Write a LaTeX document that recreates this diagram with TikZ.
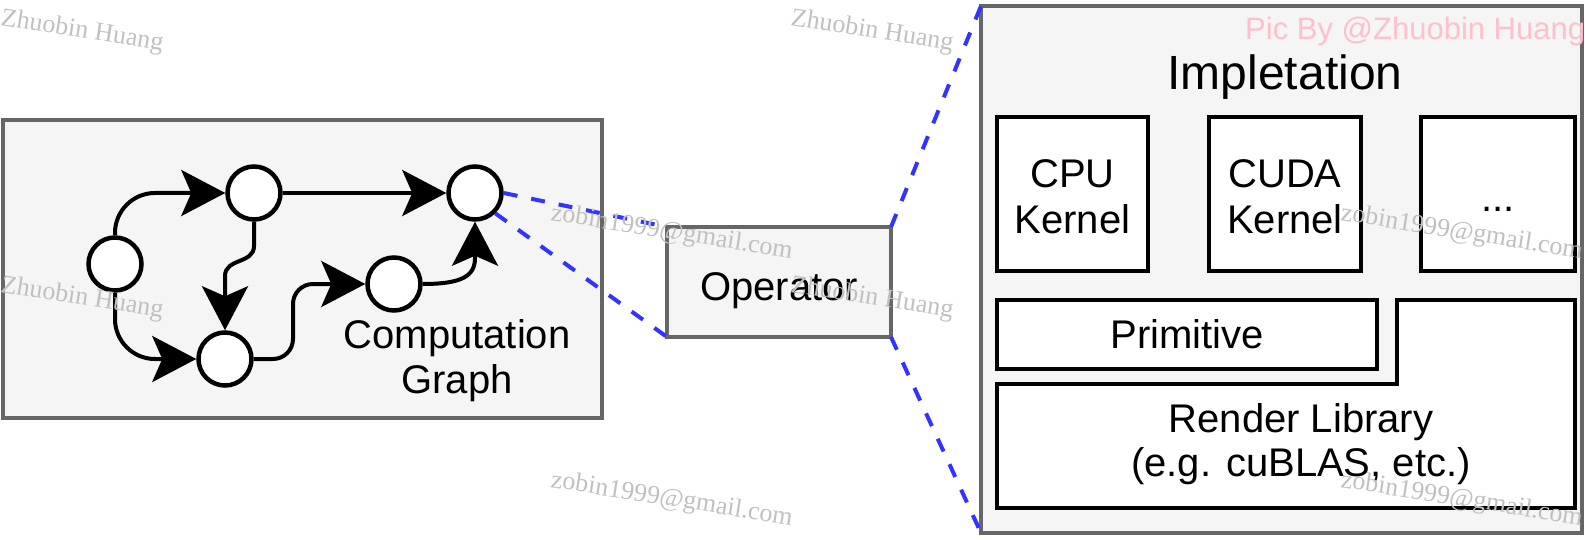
\documentclass[tikz,border=0pt]{standalone}
\usepackage{fontspec}
\setmainfont{Liberation Sans}
\newfontfamily\wmfont{Liberation Serif}
\usetikzlibrary{arrows.meta}
\definecolor{boxgray}{HTML}{666666}
\definecolor{boxfill}{HTML}{F5F5F5}
\definecolor{linkblue}{HTML}{3333FF}
\definecolor{wmgray}{HTML}{C0C0C0}
\definecolor{picpink}{HTML}{FFC0CB}
\begin{document}
\begin{tikzpicture}[x=1pt,y=-1pt,
  panel/.style={draw=boxgray, fill=boxfill, line width=4.5pt, rectangle, inner sep=0pt, outer sep=0pt},
  kbox/.style={draw=black, fill=white, line width=4.5pt, rectangle, inner sep=0pt, outer sep=0pt},
  gnode/.style={circle, draw=black, fill=white, line width=4.5pt, minimum size=53pt, inner sep=0pt},
  edge/.style={draw=black, line width=4pt, -{Stealth[length=44pt,width=46pt,inset=10pt]}},
  lbl/.style={anchor=base, font=\fontsize{40}{46}\selectfont, inner sep=0pt},
  link/.style={draw=linkblue, line width=4pt, dash pattern=on 14pt off 14pt},
  wm/.style={anchor=base west, rotate=-9, text=wmgray, font=\wmfont\fontsize{26}{30}\selectfont, inner sep=0pt},
]
\useasboundingbox (0,0) rectangle (1585,540);

% left panel: computation graph
\node[panel, minimum width=599pt, minimum height=298pt] (cgbox) at (302.5,269) {};
\node[gnode] (A) at (115,264) {};
\node[gnode] (B) at (254,193) {};
\node[gnode] (C) at (225,359) {};
\node[gnode] (D) at (394,284) {};
\node[gnode] (E) at (475,193) {};
\draw[edge, rounded corners=40pt] (A.north) -- (115,193) -- (B.west);
\draw[edge, rounded corners=40pt] (A.south) -- (115,359) -- (C.west);
\draw[edge] (B.east) -- (E.west);
\draw[edge] (B.south) -- (254,246) .. controls (254,264) and (225,258) .. (225,276) -- (C.north);
\draw[edge, rounded corners=20pt] (C.east) -- (293,359) -- (293,284) -- (D.west);
\draw[edge] (D.east) .. controls (462,284) and (475,276) .. (475,258) -- (E.south);
\node[lbl] (cg1) at (457,348) {Computation};
\node[lbl] (cg2) at (457,393) {Graph};

% operator
\node[panel, minimum width=224pt, minimum height=110pt] (op) at (779,282) {};
\node[lbl] (optext) at (779,300) {Operator};

% implementation panel
\node[panel, minimum width=601pt, minimum height=527pt] (impl) at (1281.5,269.5) {};
\node[anchor=base west, text=picpink, font=\fontsize{31}{36}\selectfont, inner sep=0pt] (pic) at (1245,40) {Pic By @Zhuobin Huang};
\node[lbl, font=\fontsize{48}{56}\selectfont] (title) at (1285,90) {Impletation};

\node[kbox, minimum width=151pt, minimum height=154pt] (cpu) at (1072.5,194) {};
\node[kbox, minimum width=152pt, minimum height=154pt] (cuda) at (1285,194) {};
\node[kbox, minimum width=154pt, minimum height=154pt] (more) at (1498,194) {};
\node[lbl] (cpu1) at (1072.5,188) {CPU};
\node[lbl] (cpu2) at (1072.5,234) {Kernel};
\node[lbl] (cuda1) at (1285,188) {CUDA};
\node[lbl] (cuda2) at (1285,234) {Kernel};
\node[lbl] (dots) at (1498,212) {...};

\node[kbox, minimum width=380pt, minimum height=69pt] (prim) at (1187,334.5) {};
\node[lbl] (primtext) at (1187,348) {Primitive};

\draw[black, line width=4.5pt, fill=white, line join=miter] (997,384) -- (1397,384) -- (1397,300) -- (1575,300) -- (1575,508) -- (997,508) -- cycle;
\node[lbl] (render1) at (1301,432) {Render Library};
\node[lbl] (render2) at (1301,476) {(e.g. cuBLAS, etc.)};

% zoom links
\draw[link] (E.east) -- (op.north west);
\draw[link] (E.-45) -- (op.south west);
\draw[link] (op.north east) -- (impl.north west);
\draw[link] (op.south east) -- (impl.south west);

% watermarks
\node[wm] (w1) at (0,25) {Zhuobin Huang};
\node[wm] (w2) at (790,25) {Zhuobin Huang};
\node[wm] (w3) at (0,292) {Zhuobin Huang};
\node[wm] (w4) at (790,292) {Zhuobin Huang};
\node[wm] (w5) at (550,220) {zobin1999@gmail.com};
\node[wm] (w6) at (550,487) {zobin1999@gmail.com};
\node[wm] (w7) at (1340,220) {zobin1999@gmail.com};
\node[wm] (w8) at (1340,487) {zobin1999@gmail.com};
\end{tikzpicture}
\end{document}
